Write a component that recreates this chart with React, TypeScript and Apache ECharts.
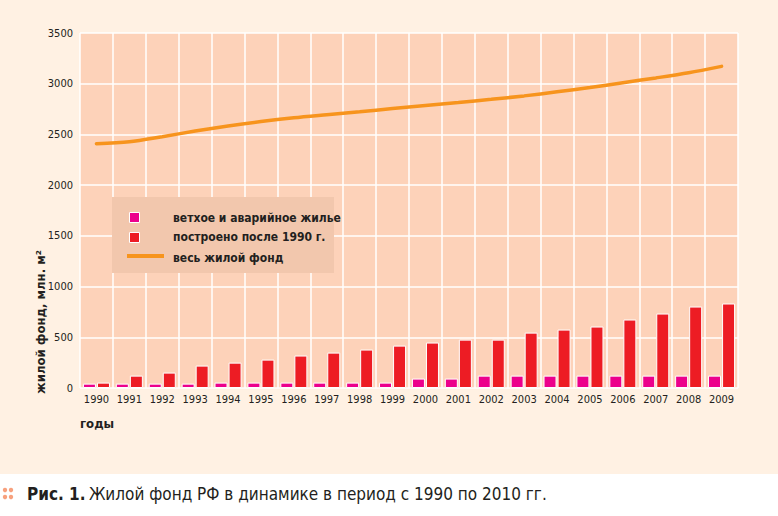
import React, { useEffect, useRef } from "react";
import * as echarts from "echarts";

const years = ["1990","1991","1992","1993","1994","1995","1996","1997","1998","1999","2000","2001","2002","2003","2004","2005","2006","2007","2008","2009"];
const dilapidated = [43,43,43,43,53,53,53,53,53,53,93,93,122,122,122,122,122,122,122,122];
const builtAfter1990 = [53,122,152,221,250,280,320,349,379,418,448,477,477,546,576,606,675,734,803,833];
const totalStock = [2409,2428,2478,2533,2583,2627,2664,2694,2723,2756,2786,2814,2846,2880,2920,2962,3010,3057,3108,3171];
const yTicks = [0, 500, 1000, 1500, 2000, 2500, 3000, 3500];

const legendNames = ["ветхое и аварийное жилье", "построено после 1990 г.", "весь жилой фонд"];
const yAxisTitle = "жилой фонд, млн. м²";
const xAxisTitle = "годы";
const captionBold = "Рис. 1.";
const captionText = "Жилой фонд РФ в динамике в период с 1990 по 2010 гг.";

const COND = "'DejaVu Sans Condensed', 'Liberation Sans Narrow', sans-serif";
const TXT = "#231F20";
const PINK = "#EC008C";
const RED = "#ED1C24";
const ORANGE = "#F7941D";

export default function App() {
  const ref = useRef<HTMLDivElement>(null);
  useEffect(() => {
    document.body.style.margin = "0";
    const chart = echarts.init(ref.current!, null, { renderer: "svg" });
    chart.setOption({
      animation: false,
      backgroundColor: "#FFF1E3",
      grid: {
        left: 80, top: 33, width: 658, height: 355,
        show: true, backgroundColor: "#FDD2B9", borderWidth: 0,
      },
      xAxis: {
        type: "category",
        data: years,
        boundaryGap: true,
        axisLine: { show: false },
        axisTick: { show: false },
        axisLabel: { color: TXT, fontFamily: COND, fontSize: 11, margin: 6, interval: 0 },
        splitLine: { show: true, interval: 0, lineStyle: { color: "#FFFFFF", width: 1.5 } },
      },
      yAxis: {
        type: "value",
        min: yTicks[0], max: yTicks[yTicks.length - 1], interval: 500,
        axisLine: { show: false },
        axisTick: { show: false },
        axisLabel: { color: TXT, fontFamily: COND, fontSize: 11, margin: 7, formatter: (v: number) => String(v) },
        splitLine: { show: true, lineStyle: { color: "#FFFFFF", width: 1.5 } },
      },
      series: [
        {
          name: legendNames[0], type: "bar", data: dilapidated,
          barWidth: 13, barGap: "8%",
          itemStyle: { color: PINK, borderColor: "#FFFFFF", borderWidth: 1 },
        },
        {
          name: legendNames[1], type: "bar", data: builtAfter1990,
          barWidth: 13,
          itemStyle: { color: RED, borderColor: "#FFFFFF", borderWidth: 1 },
        },
        {
          name: legendNames[2], type: "line", data: totalStock,
          smooth: 0.3, symbol: "none",
          lineStyle: { color: ORANGE, width: 3.5, cap: "round" },
          z: 5,
        },
      ],
      graphic: [
        { type: "rect", shape: { x: 0, y: 474, width: 778, height: 42 }, style: { fill: "#FFFFFF" }, z: -1 },
        // legend
        { type: "rect", shape: { x: 112, y: 197, width: 222, height: 76 }, style: { fill: "#F2C7AD" }, z: 10 },
        { type: "rect", shape: { x: 129.5, y: 212.5, width: 10, height: 10 }, style: { fill: PINK, stroke: "#FFFFFF", lineWidth: 1 }, z: 11 },
        { type: "rect", shape: { x: 129.5, y: 232.5, width: 10, height: 10 }, style: { fill: RED, stroke: "#FFFFFF", lineWidth: 1 }, z: 11 },
        { type: "line", shape: { x1: 127, y1: 256, x2: 164, y2: 256 }, style: { stroke: ORANGE, lineWidth: 4 }, z: 11 },
        { type: "text", x: 173, y: 217.5, style: { text: legendNames[0], fill: TXT, font: `bold 12px ${COND}`, verticalAlign: "middle" }, z: 11 },
        { type: "text", x: 173, y: 237, style: { text: legendNames[1], fill: TXT, font: `bold 12px ${COND}`, verticalAlign: "middle" }, z: 11 },
        { type: "text", x: 173, y: 258, style: { text: legendNames[2], fill: TXT, font: `bold 12px ${COND}`, verticalAlign: "middle" }, z: 11 },
        // axis titles
        { type: "text", x: 40, y: 322, rotation: Math.PI / 2, style: { text: yAxisTitle, fill: TXT, font: `bold 13px ${COND}`, align: "center", verticalAlign: "middle" } },
        { type: "text", x: 80, y: 423, style: { text: xAxisTitle, fill: TXT, font: `bold 13px ${COND}`, verticalAlign: "middle" } },
        // caption
        { type: "circle", shape: { cx: 5, cy: 490, r: 2.2 }, style: { fill: "#F7A17E" } },
        { type: "circle", shape: { cx: 11, cy: 490, r: 2.2 }, style: { fill: "#F7A17E" } },
        { type: "circle", shape: { cx: 5, cy: 497, r: 2.2 }, style: { fill: "#F7A17E" } },
        { type: "circle", shape: { cx: 11, cy: 497, r: 2.2 }, style: { fill: "#F7A17E" } },
        {
          type: "text", x: 27, y: 494,
          style: {
            text: `{b|${captionBold}} {r|${captionText}}`,
            verticalAlign: "middle",
            rich: {
              b: { font: `bold 17px ${COND}`, fill: TXT },
              r: { font: `17px ${COND}`, fill: TXT },
            },
          },
        },
      ],
    });
    return () => chart.dispose();
  }, []);
  return <div ref={ref} style={{ width: 778, height: 516 }} />;
}
